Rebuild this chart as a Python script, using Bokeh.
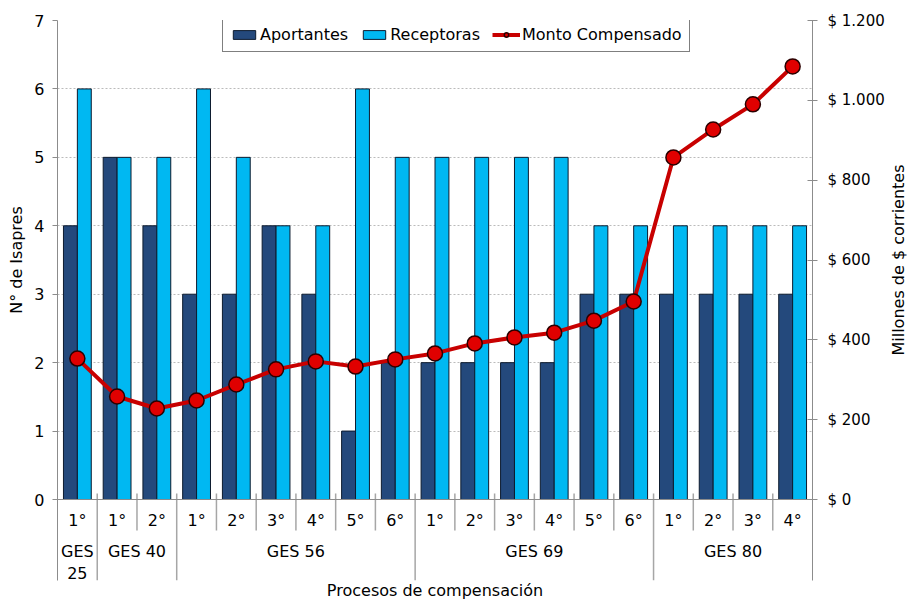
import math
from bokeh.plotting import figure
from bokeh.layouts import row
from bokeh.models import (Range1d, LinearAxis, ColumnDataSource, Span,
                          CustomJSTickFormatter, FixedTicker, Legend, LegendItem)
from bokeh.core.properties import value
from bokeh.embed import file_html
from bokeh.resources import INLINE

grupo = ["GES 25", "GES 40", "GES 40",
         "GES 56", "GES 56", "GES 56", "GES 56", "GES 56", "GES 56",
         "GES 69", "GES 69", "GES 69", "GES 69", "GES 69", "GES 69",
         "GES 80", "GES 80", "GES 80", "GES 80"]
proceso = ["1°", "1°", "2°",
           "1°", "2°", "3°", "4°", "5°", "6°",
           "1°", "2°", "3°", "4°", "5°", "6°",
           "1°", "2°", "3°", "4°"]
aportantes = [4, 5, 4, 3, 3, 4, 3, 1, 2, 2, 2, 2, 2, 3, 3, 3, 3, 3, 3]
receptoras = [6, 5, 5, 6, 5, 4, 4, 6, 5, 5, 5, 5, 5, 4, 4, 4, 4, 4, 4]
monto = [353, 258, 228, 248, 288, 326, 346, 333, 351, 366, 391, 406, 418,
         448, 496, 857, 927, 990, 1085]
left_ticks = [0, 1, 2, 3, 4, 5, 6, 7]
right_ticks = [0, 200, 400, 600, 800, 1000, 1200]
y_title = "N° de Isapres"
y2_title = "Millones de $ corrientes"
x_title = "Procesos de compensación"

FONT = "DejaVu Sans"
n = len(proceso)
xc = [i + 0.5 for i in range(n)]

# group spans derived from the category list
g_names, g_start, g_end = [], [], []
for i, g in enumerate(grupo):
    if g_names and g_names[-1] == g:
        g_end[-1] = i + 1
    else:
        g_names.append(g)
        g_start.append(i)
        g_end.append(i + 1)
g_text = [g.replace(" ", "\n") if (e - s) == 1 else g
          for g, s, e in zip(g_names, g_start, g_end)]
g_center = [(s + e) / 2 for s, e in zip(g_start, g_end)]

Y_MAX = 7
Y_MIN = -1.1837          # room below zero for the category labels
R_MAX = 1200
R_MIN = Y_MIN * R_MAX / Y_MAX
TOP, BOTTOM = 20, 22
H = 602

yr = Range1d(Y_MIN, Y_MAX)
src = ColumnDataSource(dict(x=xc, ap=aportantes, re=receptoras, mo=monto,
                            xa=[x - 0.175 for x in xc], xr=[x + 0.175 for x in xc],
                            lab=proceso))

p = figure(x_range=Range1d(0, n), y_range=yr,
           width=856, height=H,
           output_backend="svg", toolbar_location=None,
           min_border_left=26, min_border_right=75, min_border_top=TOP,
           min_border_bottom=BOTTOM)
p.extra_y_ranges = {"monto": Range1d(R_MIN, R_MAX)}

p.outline_line_color = None
p.xgrid.grid_line_color = None
p.ygrid.grid_line_color = "#BBBBBB"
p.ygrid.grid_line_dash = "2 2"
p.ygrid.ticker = FixedTicker(ticks=left_ticks[1:])

r_ap = p.vbar(x="xa", top="ap", width=0.35, source=src,
              fill_color="#24497C", line_color="#0D1B2E", line_width=1)
r_re = p.vbar(x="xr", top="re", width=0.35, source=src,
              fill_color="#00B8F2", line_color="#0D1B2E", line_width=1)

p.add_layout(Span(location=0, dimension="width", line_color="#8C8C8C",
                  line_width=1))

# separators between categories (short) and between groups (long)
bounds = list(range(1, n))
grp_bounds = set(g_start[1:])
sx = [b for b in bounds]
sy0 = [0.088 for b in bounds]
sy1 = [Y_MIN if b in grp_bounds else -0.453 for b in bounds]
p.segment(x0=sx, y0=sy0, x1=sx, y1=sy1, line_color="#A6A6A6", line_width=1.5)

p.text(x="x", y=-0.307, text="lab", source=src, text_font=value(FONT),
       text_font_size=value("16px"), text_align="center",
       text_baseline="middle", text_color="#000000")
p.text(x=g_center, y=[-0.615] * len(g_center), text=g_text,
       text_font=value(FONT), text_font_size=value("16px"),
       text_align="center", text_baseline="top", text_color="#000000",
       text_line_height=1.2)

r_line = p.line(x="x", y="mo", source=src, y_range_name="monto",
                line_color="#C80000", line_width=4)
r_pts = p.scatter(x="x", y="mo", source=src, y_range_name="monto", size=15,
                  fill_color="#E00000", line_color="#2A0000", line_width=1.5)

ya = p.yaxis[0]
ya.ticker = FixedTicker(ticks=left_ticks)
ya.minor_tick_line_color = None
ya.major_tick_in = 0
ya.major_tick_out = 5
ya.major_label_standoff = 8
ya.axis_line_color = "#8C8C8C"
ya.major_tick_line_color = "#8C8C8C"
ya.major_label_text_font = FONT
ya.major_label_text_font_size = "16px"
ya.major_label_text_color = "#000000"

ra = LinearAxis(y_range_name="monto", ticker=FixedTicker(ticks=right_ticks))
ra.formatter = CustomJSTickFormatter(
    code="return '$ ' + tick.toFixed(0).replace(/\\B(?=(\\d{3})+(?!\\d))/g, '.');")
ra.minor_tick_line_color = None
ra.major_tick_in = 5
ra.major_tick_out = 5
ra.axis_line_color = "#8C8C8C"
ra.major_tick_line_color = "#8C8C8C"
ra.major_label_text_font = FONT
ra.major_label_text_font_size = "15px"
ra.major_label_text_color = "#000000"
ra.major_label_standoff = 10
p.add_layout(ra, "right")

xa = p.xaxis[0]
xa.ticker = FixedTicker(ticks=[])
xa.axis_line_color = None
xa.major_tick_line_color = None
xa.minor_tick_line_color = None
xa.axis_label = x_title
xa.axis_label_text_font = FONT
xa.axis_label_text_font_style = "normal"
xa.axis_label_text_font_size = "16px"
xa.axis_label_text_color = "#000000"
xa.axis_label_standoff = 0

legend = Legend(items=[
    LegendItem(label="Aportantes", renderers=[r_ap]),
    LegendItem(label="Receptoras", renderers=[r_re]),
    LegendItem(label="Monto Compensado", renderers=[r_line, r_pts]),
], location=(165, 528), orientation="horizontal")
legend.label_text_font = FONT
legend.label_text_font_size = "16px"
legend.label_text_color = "#000000"
legend.border_line_color = "#000000"
legend.border_line_width = 1
legend.glyph_width = 28
legend.glyph_height = 11
legend.spacing = 12
legend.padding = 7
legend.margin = 0
legend.label_standoff = 2
legend.label_height = 16
p.add_layout(legend)


def title_panel(text, width):
    f = figure(x_range=Range1d(0, 1), y_range=yr, width=width, height=H,
               output_backend="svg", toolbar_location=None,
               x_axis_location=None, y_axis_location=None,
               min_border_left=0, min_border_right=0,
               min_border_top=TOP, min_border_bottom=BOTTOM)
    f.outline_line_color = None
    f.grid.grid_line_color = None
    f.text(x=[0.5], y=[Y_MAX / 2], text=[text], angle=math.pi / 2,
           text_font=value(FONT), text_font_size=value("16px"),
           text_align="center", text_baseline="middle", text_color="#000000")
    return f


left_panel = title_panel(y_title, 31)
right_panel = title_panel(y2_title, 21)

layout = row(left_panel, p, right_panel, spacing=0)
open("out.html", "w").write(file_html(layout, INLINE))
